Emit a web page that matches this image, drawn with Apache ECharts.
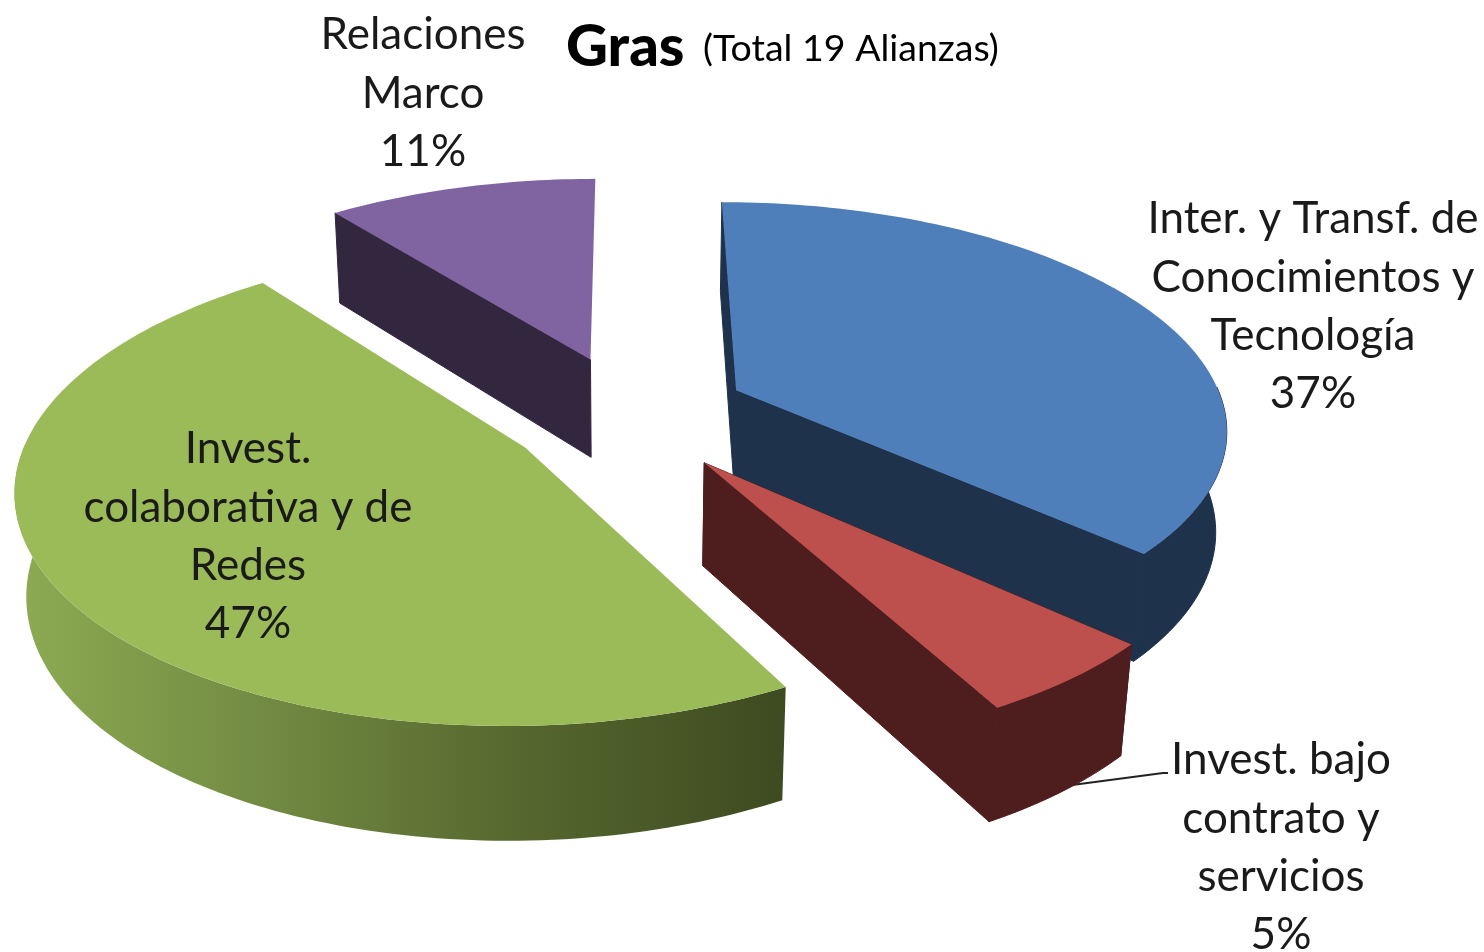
<!DOCTYPE html>
<html><head><meta charset="utf-8">
<style>html,body{margin:0;padding:0;background:#fff}#c{width:1484px;height:952px}</style>
<script src="https://cdn.jsdelivr.net/npm/echarts@6/dist/echarts.min.js"></script>
</head><body><div id="c"></div>
<script>
const categories = ['Inter. y Transf. de\nConocimientos y\nTecnología','Invest. bajo\ncontrato y\nservicios','Invest.\ncolaborativa y de\nRedes','Relaciones\nMarco'];
const alliances = [7,1,9,2];
const topColors = ['#4f7fba','#bd504c','#9bbb59','#8063a1'];
const sideColors = ['#1e324c','#4d1e1d',null,'#33263f'];
const greenWall = [[0,'#8dab52'],[0.3,'#748d44'],[0.65,'#55682e'],[1,'#3e4a20']];
const drawRank = [1,4,3,2];
const innerWalls = [[1,1],[1,1],[0,0],[1,0]];
const labelAnchors = [[1313,190],[1281,731],[248,420],[423,6]];

// camera
const CAM = {cx:628, cy:414, F:2823, D:5.76, phi:27.2*Math.PI/180, h:0.235, explode:0.245, explodeYFactor:1.09};
const sinP = Math.sin(CAM.phi), cosP = Math.cos(CAM.phi);
function project(X,Y,Z){
  const yc = Y*sinP + Z*cosP, zc = CAM.D + Y*cosP - Z*sinP;
  return [CAM.cx + CAM.F*X/zc, CAM.cy - CAM.F*yc/zc];
}
const total = alliances.reduce((a,b)=>a+b,0);
const angleOf = v => echarts.number.linearMap(v,[0,total],[0,2*Math.PI]);

function renderItem(params, api){
  const i = params.dataIndex;
  let before = 0; for(let k=0;k<i;k++) before += alliances[k];
  const value = api.value(0);
  const a0 = angleOf(before), a1 = angleOf(before+value);
  const m = (a0+a1)/2;
  const ox = CAM.explode*Math.sin(m), oy = CAM.explode*CAM.explodeYFactor*Math.cos(m);
  const arc = [], front = [];
  const n = Math.max(12,Math.ceil((a1-a0)/0.02));
  for(let k=0;k<=n;k++){
    const t=a0+(a1-a0)*k/n, p=[ox+Math.sin(t),oy+Math.cos(t)];
    arc.push(p);
    if(Math.cos(t)<0.02) front.push(p);
  }
  const top = arc.map(p=>project(p[0],p[1],0));
  const frontTop = front.map(p=>project(p[0],p[1],0));
  const frontBot = front.map(p=>project(p[0],p[1],-CAM.h));
  const first = project(arc[0][0],arc[0][1],-CAM.h), last = project(arc[n][0],arc[n][1],-CAM.h);
  const apT = project(ox,oy,0), apB = project(ox,oy,-CAM.h);
  const flat = sideColors[i] || greenWall[3][1];
  const side = sideColors[i] || {type:'linear',x:0,y:0,x2:1,y2:0,colorStops:greenWall.map(s=>({offset:s[0],color:s[1]}))};
  const z2 = drawRank[i]*10;
  const children = [];
  if(innerWalls[i][0]) children.push({type:'polygon',z2:z2,shape:{points:[apT,top[0],first,apB]},style:{fill:flat,stroke:flat,lineWidth:1}});
  if(innerWalls[i][1]) children.push({type:'polygon',z2:z2,shape:{points:[apT,top[n],last,apB]},style:{fill:flat,stroke:flat,lineWidth:1}});
  if(front.length>1) children.push({type:'polygon',z2:z2+1,shape:{points:frontTop.concat(frontBot.slice().reverse())},
    style:sideColors[i]?{fill:side,stroke:side,lineWidth:1}:{fill:side}});
  children.push({type:'polygon',z2:z2+2,shape:{points:[apT].concat(top)},style:{fill:topColors[i]}});
  const la = labelAnchors[i];
  children.push({type:'text',z2:100,x:la[0],y:la[1],style:{
    text:categories[i]+'\n'+Math.round(100*value/total)+'%',font:'44px Lato',fill:'#1a1a1a',align:'center',verticalAlign:'top',lineHeight:58.3}});
  return {type:'group',children};
}

const chart = echarts.init(document.getElementById('c'),null,{renderer:'canvas'});
chart.setOption({
  animation:false,
  backgroundColor:'#fff',
  title:[
    {left:566,top:17,padding:0,text:'Gras',textStyle:{fontFamily:'Lato',fontWeight:900,fontSize:58,color:'#000',lineHeight:60}},
    {left:703,top:26,padding:0,text:'(Total 19 Alianzas)',textStyle:{fontFamily:'Lato',fontWeight:'normal',fontSize:37.5,color:'#000',lineHeight:46}}
  ],
  series:[
    {type:'custom',coordinateSystem:'none',silent:true,renderItem,data:alliances.map(v=>[v])},
    {type:'custom',coordinateSystem:'none',silent:true,z:1,
     renderItem:()=>({type:'polyline',shape:{points:[[1057,787],[1163,773],[1168,773]]},style:{stroke:'#222',lineWidth:2,fill:null}}),
     data:[[0]]}
  ]
});
</script></body></html>
